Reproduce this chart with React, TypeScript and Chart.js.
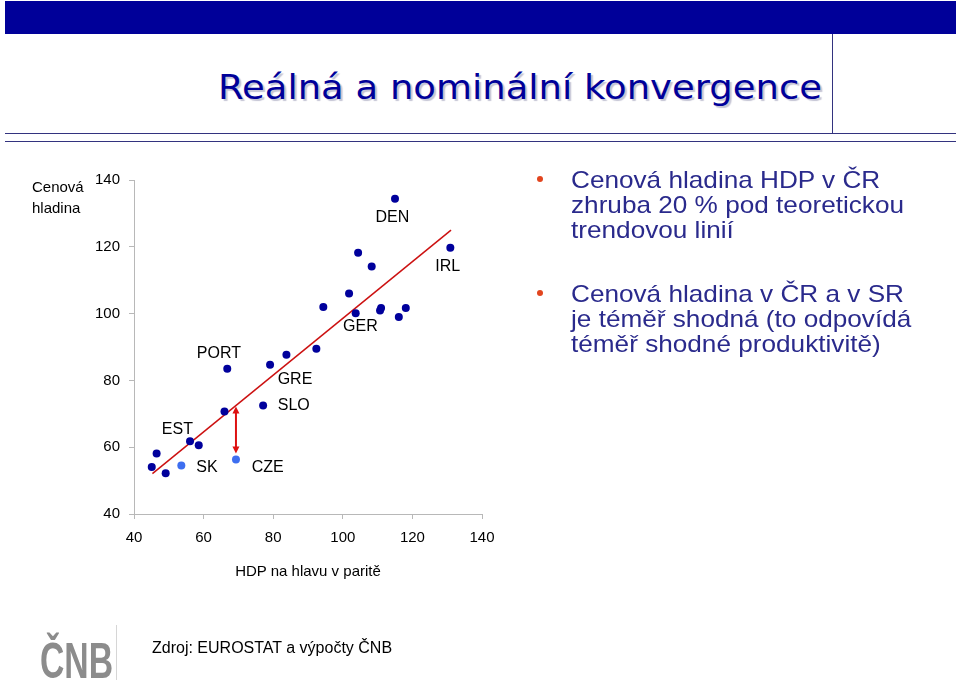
import React, { useEffect, useRef } from "react";
import { Chart, registerables } from "chart.js";

Chart.register(...registerables);

// ---- data ----
const gdpPerCapita = [45.1, 46.5, 49.1, 56.1, 58.6, 66.0, 66.8, 77.1, 79.1, 83.8, 92.4, 94.4, 101.8, 103.7, 104.4, 108.3, 110.7, 111.0, 116.1, 118.1, 115.0, 130.9];
const priceLevel = [54.1, 58.1, 52.2, 61.8, 60.6, 70.7, 83.5, 72.5, 84.7, 87.7, 89.5, 102.0, 106.0, 100.1, 118.2, 114.1, 100.9, 101.7, 99.0, 101.7, 134.4, 119.7];
const highlightGdp = [53.6, 69.3]; // SK, CZE
const highlightPrice = [54.5, 56.3];
const trendGdp = [45.3, 131.1];
const trendPrice = [52.1, 125.0];
const xTicks = [40, 60, 80, 100, 120, 140];
const yTicks = [40, 60, 80, 100, 120, 140];
const countryNames = ["EST", "PORT", "SLO", "GRE", "GER", "DEN", "IRL", "SK", "CZE"];
const countryPointIndex = [3, 6, 7, 8, 13, 20, 21, 0, 1];
const countryDataset = [0, 0, 0, 0, 0, 0, 0, 1, 1];

// label placement (pixel offsets from the point)
const labelOffsets: { dx: number; dy: number; align: CanvasTextAlign }[] = [
  { dx: -12.6, dy: -11.7, align: "center" },
  { dx: -8.4, dy: -15.4, align: "center" },
  { dx: 14.6, dy: 0, align: "left" },
  { dx: 7.6, dy: 15.3, align: "left" },
  { dx: 4.7, dy: 13, align: "center" },
  { dx: -2.7, dy: 19, align: "center" },
  { dx: -2.6, dy: 18.7, align: "center" },
  { dx: 15, dy: 2.3, align: "left" },
  { dx: 15.7, dy: 8.3, align: "left" },
];

const FONT = "'Liberation Sans', Arial, sans-serif";

const labelPlugin = {
  id: "countryLabels",
  afterDatasetsDraw(chart: any) {
    const ctx = chart.ctx;
    ctx.save();
    ctx.font = `16px ${FONT}`;
    ctx.fillStyle = "#000";
    ctx.textBaseline = "middle";
    countryNames.forEach((name, k) => {
      const meta = chart.getDatasetMeta(countryDataset[k]);
      const el = meta.data[countryPointIndex[k]];
      if (!el) return;
      const off = labelOffsets[k];
      ctx.textAlign = off.align;
      ctx.fillText(name, el.x + off.dx, el.y + off.dy);
    });
    ctx.restore();
  },
};

const arrowPlugin = {
  id: "czeArrow",
  afterDatasetsDraw(chart: any) {
    const xs = chart.scales.x;
    const ys = chart.scales.y;
    const cx = highlightGdp[1];
    const t = (cx - trendGdp[0]) / (trendGdp[1] - trendGdp[0]);
    const trendVal = trendPrice[0] + t * (trendPrice[1] - trendPrice[0]);
    const px = xs.getPixelForValue(cx);
    const yTop = ys.getPixelForValue(trendVal) + 1;
    const yBot = ys.getPixelForValue(highlightPrice[1]) - 6;
    const ctx = chart.ctx;
    ctx.save();
    ctx.strokeStyle = "#dd1111";
    ctx.fillStyle = "#dd1111";
    ctx.lineWidth = 2;
    ctx.beginPath();
    ctx.moveTo(px, yTop + 4);
    ctx.lineTo(px, yBot - 4);
    ctx.stroke();
    const head = (y: number, dir: number) => {
      ctx.beginPath();
      ctx.moveTo(px, y);
      ctx.lineTo(px - 3.5, y + dir * 7);
      ctx.lineTo(px + 3.5, y + dir * 7);
      ctx.closePath();
      ctx.fill();
    };
    head(yTop, 1);
    head(yBot, -1);
    ctx.restore();
  },
};

function ChartCanvas() {
  const ref = useRef<HTMLCanvasElement | null>(null);
  useEffect(() => {
    if (!ref.current) return;
    const axisColor = "#b8b8b8";
    const chart = new Chart(ref.current, {
      type: "scatter",
      data: {
        datasets: [
          {
            label: "Země",
            data: gdpPerCapita.map((x, i) => ({ x, y: priceLevel[i] })),
            backgroundColor: "#00009c",
            borderWidth: 0,
            pointRadius: 4,
            order: 1,
          },
          {
            label: "SK, CZE",
            data: highlightGdp.map((x, i) => ({ x, y: highlightPrice[i] })),
            backgroundColor: "#3d6ef0",
            borderWidth: 0,
            pointRadius: 4,
            order: 1,
          },
          {
            label: "Trend",
            data: trendGdp.map((x, i) => ({ x, y: trendPrice[i] })),
            showLine: true,
            borderColor: "#cc1111",
            borderWidth: 1.5,
            pointRadius: 0,
            order: 2,
          } as any,
        ],
      },
      options: {
        responsive: false,
        animation: false,
        layout: { padding: { left: 30, top: 180, right: 478, bottom: 107 } },
        plugins: { legend: { display: false }, tooltip: { enabled: false } },
        scales: {
          x: {
            type: "linear",
            min: 40,
            max: 140,
            afterBuildTicks: (s: any) => {
              s.ticks = xTicks.map((v) => ({ value: v }));
            },
            afterFit: (s: any) => {
              s.height = 60;
            },
            grid: { drawOnChartArea: false, tickLength: 5, color: axisColor },
            border: { color: axisColor },
            ticks: { color: "#000", font: { family: FONT, size: 15 }, padding: 10, maxRotation: 0 },
          },
          y: {
            type: "linear",
            min: 40,
            max: 140,
            afterBuildTicks: (s: any) => {
              s.ticks = yTicks.map((v) => ({ value: v }));
            },
            afterFit: (s: any) => {
              s.width = 104;
            },
            grid: { drawOnChartArea: false, tickLength: 5, color: axisColor },
            border: { color: axisColor },
            ticks: { color: "#000", font: { family: FONT, size: 15 }, padding: 9 },
          },
        },
      },
      plugins: [labelPlugin, arrowPlugin],
    });
    return () => chart.destroy();
  }, []);
  return (
    <canvas
      ref={ref}
      width={960}
      height={681}
      style={{ position: "absolute", left: 0, top: 0, width: 960, height: 681 }}
    />
  );
}

const bulletText = {
  color: "#2a2a8c",
  fontFamily: FONT,
  fontSize: 24,
  lineHeight: "25px",
  transform: "scaleX(1.09)",
  transformOrigin: "0 0",
};

export default function App() {
  return (
    <div style={{ position: "absolute", left: 0, top: 0, width: 960, height: 681, overflow: "hidden", background: "#fff" }}>
      <div style={{ position: "absolute", left: 5, top: 1, width: 951, height: 33, background: "#000099" }} />
      <div style={{ position: "absolute", left: 832, top: 34, width: 1, height: 99, background: "#33337f" }} />
      <div style={{ position: "absolute", left: 5, top: 133, width: 951, height: 1, background: "#33337f" }} />
      <div style={{ position: "absolute", left: 5, top: 141, width: 951, height: 1, background: "#33337f" }} />
      <div
        style={{
          position: "absolute",
          left: 218,
          top: 71,
          fontFamily: "'DejaVu Sans', Verdana, sans-serif",
          fontSize: 33,
          lineHeight: "33px",
          color: "#000099",
          whiteSpace: "nowrap",
          textShadow: "2px 2px 1px #c4c4d4",
          transform: "scaleX(1.12)",
          transformOrigin: "0 0",
        }}
      >
        Reálná a nominální konvergence
      </div>

      <ChartCanvas />

      <div style={{ position: "absolute", left: 32, top: 177, fontFamily: FONT, fontSize: 15, lineHeight: "20.5px", color: "#000" }}>
        Cenová
        <br />
        hladina
      </div>
      <div style={{ position: "absolute", left: 208, width: 200, top: 562, textAlign: "center", fontFamily: FONT, fontSize: 15, lineHeight: "18px", color: "#000", whiteSpace: "nowrap" }}>
        HDP na hlavu v paritě
      </div>

      <div style={{ position: "absolute", left: 537, top: 176, width: 6, height: 6, borderRadius: 3, background: "#e2451e" }} />
      <div style={{ position: "absolute", left: 571, top: 167.2, whiteSpace: "nowrap", ...bulletText }}>
        Cenová hladina HDP v ČR
        <br />
        zhruba 20 % pod teoretickou
        <br />
        trendovou linií
      </div>
      <div style={{ position: "absolute", left: 537, top: 290, width: 6, height: 6, borderRadius: 3, background: "#e2451e" }} />
      <div style={{ position: "absolute", left: 571, top: 280.9, whiteSpace: "nowrap", ...bulletText }}>
        Cenová hladina v ČR a v SR
        <br />
        je téměř shodná (to odpovídá
        <br />
        téměř shodné produktivitě)
      </div>

      <div
        style={{
          position: "absolute",
          left: 40,
          top: 635.7,
          fontFamily: FONT,
          fontSize: 50,
          fontWeight: "bold",
          lineHeight: "50px",
          color: "#8c8c8c",
          transform: "scaleX(0.675)",
          transformOrigin: "0 0",
          whiteSpace: "nowrap",
        }}
      >
        ČNB
      </div>
      <div style={{ position: "absolute", left: 116, top: 625, width: 1, height: 55, background: "#d6d6d6" }} />
      <div style={{ position: "absolute", left: 152, top: 638.8, fontFamily: FONT, fontSize: 16, lineHeight: "18px", color: "#000", whiteSpace: "nowrap" }}>
        Zdroj: EUROSTAT a výpočty ČNB
      </div>
    </div>
  );
}
